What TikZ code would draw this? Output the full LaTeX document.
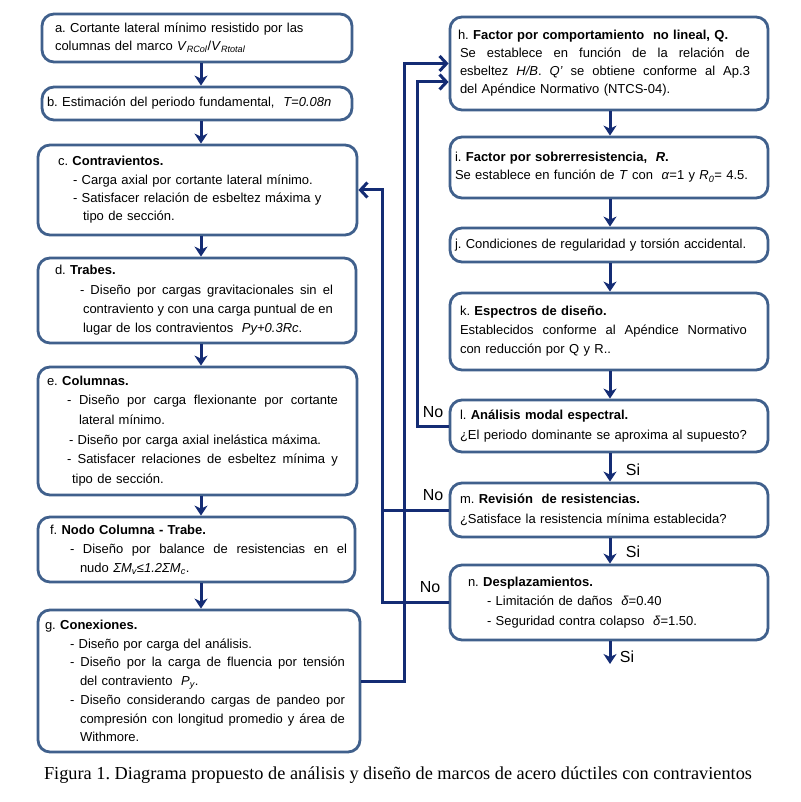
\documentclass[tikz,border=0pt]{standalone}
\usepackage{fontspec}
\setmainfont{Liberation Sans}
\newfontfamily\capfont{Liberation Serif}
\usetikzlibrary{arrows.meta,calc}
\frenchspacing
\definecolor{boxc}{RGB}{64,96,140}
\definecolor{lnc}{RGB}{20,44,116}
\newcommand\Ln[2]{\hspace*{#1pt}#2}
\newcommand\Lj[3]{\hspace*{#1pt}\hbox to #2pt{\spaceskip=\fontdimen2\font plus 1fil minus 2pt\relax #3}}
\tikzset{
  fbox/.style={draw=boxc, line width=2.8pt, rounded corners=12pt, fill=white,
    inner xsep=0pt, inner ysep=0pt, align=left, anchor=center},
  bs/.style={font=\frenchspacing\fontsize{13pt}{#1pt}\selectfont},
  dn/.style={draw=lnc, line width=3pt, -{Stealth[length=10pt,width=13pt,inset=3pt]}},
  sd/.style={draw=lnc, line width=3pt, -{Straight Barb[length=7pt,width=15pt,line width=3pt]}},
  ln/.style={draw=lnc, line width=3pt},
  lab/.style={font=\fontsize{16pt}{18pt}\selectfont, inner sep=0pt},
}
\begin{document}
\begin{tikzpicture}[x=1pt,y=-1pt]
\fill[white] (0,0) rectangle (800,802);
\useasboundingbox (0,0) rectangle (800,802);

% left column
\node[fbox, bs=18, text width=310pt, minimum height=48pt] (a) at (197,38) {%
\Ln{13}{a. Cortante lateral mínimo resistido por las}\\
\Ln{13}{columnas del marco \textit{V}\textsubscript{\textit{RCol}}/\textit{V}\textsubscript{\textit{Rtotal}}}};

\node[fbox, bs=18, text width=310pt, minimum height=33pt] (b) at (197,103.5) {%
\Ln{5}{b. Estimación del periodo fundamental, \ \textit{T=0.08n}}};

\node[fbox, bs=18.3, text width=319pt, minimum height=90pt] (c) at (197.5,190) {%
\Ln{20}{c. \textbf{Contravientos.}}\\
\Ln{35}{- Carga axial por cortante lateral mínimo.}\\
\Ln{35}{- Satisfacer relación de esbeltez máxima y}\\
\Ln{45}{tipo de sección.}};

\node[fbox, bs=19.3, text width=318pt, minimum height=85pt] (d) at (197,300.5) {%
\Ln{17}{d. \textbf{Trabes.}}\\
\Lj{42}{253}{- Diseño por cargas gravitacionales sin el}\\
\Lj{45}{250}{contraviento y con una carga puntual de en}\\
\Ln{45}{lugar de los contravientos \ \textit{Py+0.3Rc}.}};

\node[fbox, bs=19.6, text width=319pt, minimum height=128pt] (e) at (197.5,431) {%
\Ln{9}{e. \textbf{Columnas.}}\\
\Lj{29}{271}{- Diseño por carga flexionante por cortante}\\
\Ln{41}{lateral mínimo.}\\
\Ln{31}{- Diseño por carga axial inelástica máxima.}\\
\Lj{29}{271}{- Satisfacer relaciones de esbeltez mínima y}\\
\Ln{34}{tipo de sección.}};

\node[fbox, bs=19, text width=317pt, minimum height=65pt] (f) at (196.5,549.5) {%
\Ln{12}{f. \textbf{Nodo Columna - Trabe.}}\\
\Lj{32}{277}{- Diseño por balance de resistencias en el}\\
\Ln{42}{nudo \textit{ΣM\textsubscript{v}≤1.2ΣM\textsubscript{c}}.}};

\node[fbox, bs=18.7, text width=322pt, minimum height=142pt] (g) at (199,681) {%
\Ln{7}{g. \textbf{Conexiones.}}\\
\Ln{32}{- Diseño por carga del análisis.}\\
\Lj{32}{275}{- Diseño por la carga de fluencia por tensión}\\
\Ln{42}{del contraviento \ \textit{P\textsubscript{y}}.}\\
\Lj{32}{275}{- Diseño considerando cargas de pandeo por}\\
\Lj{42}{265}{compresión con longitud promedio y área de}\\
\Ln{42}{Withmore.}};

% right column
\node[fbox, bs=18, text width=318pt, minimum height=93pt] (h) at (609,63.5) {%
\Ln{8}{h. \textbf{Factor por comportamiento \ no lineal, Q.}}\\
\Lj{10}{290}{Se establece en función de la relación de}\\
\Lj{10}{290}{esbeltez \textit{H/B}. \textit{Q'} se obtiene conforme al Ap.3}\\
\Ln{10}{del Apéndice Normativo (NTCS-04).}};

\node[fbox, bs=18, text width=318pt, minimum height=61pt] (i) at (609,167.5) {%
\Ln{5}{i. \textbf{Factor por sobrerresistencia, \ \textit{R}.}}\\
\Ln{5}{Se establece en función de \textit{T} con \ \textit{α}=1 y \textit{R}\textsubscript{\textit{0}}= 4.5.}};

\node[fbox, bs=18, text width=318pt, minimum height=34pt] (j) at (609,245) {%
\Ln{5}{j. Condiciones de regularidad y torsión accidental.}};

\node[fbox, bs=19, text width=318pt, minimum height=77pt] (k) at (609,331.5) {%
\Ln{10}{k. \textbf{Espectros de diseño.}}\\
\Lj{10}{287}{Establecidos conforme al Apéndice Normativo}\\
\Ln{10}{con reducción por Q y R..}};

\node[fbox, bs=20, text width=318pt, minimum height=52pt] (l) at (609,426) {%
\Ln{10}{l. \textbf{Análisis modal espectral.}}\\
\Ln{10}{¿El periodo dominante se aproxima al supuesto?}};

\node[fbox, bs=20, text width=318pt, minimum height=54pt] (m) at (609,510) {%
\Ln{10}{m. \textbf{Revisión \ de resistencias.}}\\
\Ln{10}{¿Satisface la resistencia mínima establecida?}};

\node[fbox, bs=19.5, text width=318pt, minimum height=75pt] (n) at (609,602.5) {%
\Ln{18}{n. \textbf{Desplazamientos.}}\\
\Ln{37}{- Limitación de daños \ \textit{δ}=0.40}\\
\Ln{37}{- Seguridad contra colapso \ \textit{δ}=1.50.}};

% helper coordinates
\coordinate (lx) at (201,0);
\coordinate (rx) at (610,0);
\coordinate (b1) at (382,0);
\coordinate (b2) at (404,0);
\coordinate (b3) at (417,0);
\coordinate (h2) at ($(h.west)+(0,18.5)$);
\coordinate (fin) at (610,664);

% left column arrows
\draw[dn] (a.south -| lx) -- (b.north -| lx);
\draw[dn] (b.south -| lx) -- (c.north -| lx);
\draw[dn] (c.south -| lx) -- (d.north -| lx);
\draw[dn] (d.south -| lx) -- (e.north -| lx);
\draw[dn] (e.south -| lx) -- (f.north -| lx);
\draw[dn] (f.south -| lx) -- (g.north -| lx);

% right column arrows
\draw[dn] (h.south -| rx) -- (i.north -| rx);
\draw[dn] (i.south -| rx) -- (j.north -| rx);
\draw[dn] (j.south -| rx) -- (k.north -| rx);
\draw[dn] (k.south -| rx) -- (l.north -| rx);
\draw[dn] (l.south -| rx) -- (m.north -| rx);
\draw[dn] (m.south -| rx) -- (n.north -| rx);
\draw[dn] (n.south -| rx) -- (fin);

% feedback connectors
\draw[sd] (n.west) -| (b1 |- c.east) -- (c.east);
\draw[ln] (m.west) -- (m.west -| b1);
\draw[sd] (g.east) -| (b2 |- h.west) -- (h.west);
\draw[sd] (l.west) -| (b3 |- h2) -- (h2);

% labels
\node[lab] (no1) at (433,412) {No};
\node[lab] (no2) at (433,495) {No};
\node[lab] (no3) at (430,587) {No};
\node[lab] (si1) at (633,470) {Si};
\node[lab] (si2) at (633,552) {Si};
\node[lab] (si3) at (627,657) {Si};

% caption
\node[font=\capfont\frenchspacing\fontsize{18.3pt}{22pt}\selectfont, inner sep=0pt] (cap) at (398,775)
  {Figura 1. Diagrama propuesto de análisis y diseño de marcos de acero dúctiles con contravientos};
\end{tikzpicture}
\end{document}
